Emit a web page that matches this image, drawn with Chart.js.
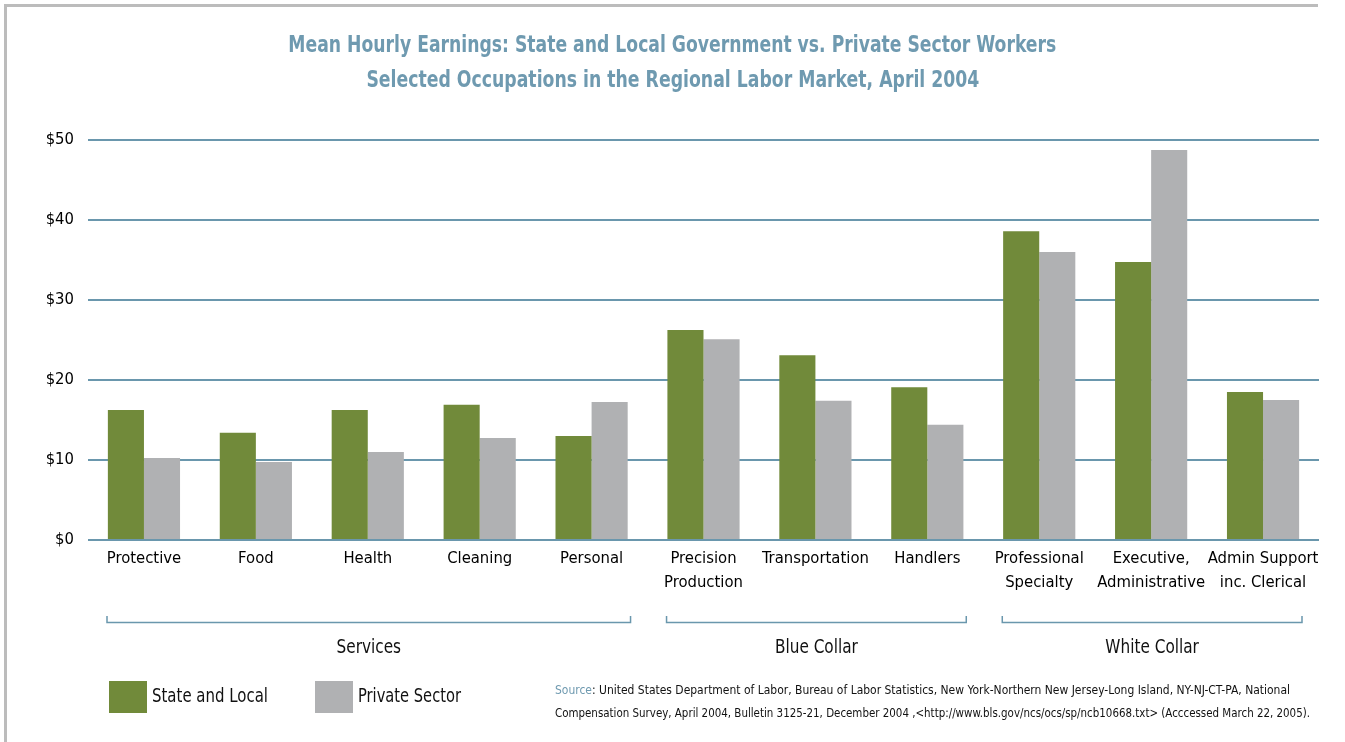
<!DOCTYPE html>
<html>
<head>
<meta charset="utf-8">
<script src="https://cdn.jsdelivr.net/npm/chart.js@4/dist/chart.umd.min.js"></script>
<style>
  html, body { margin: 0; padding: 0; background: #fff; }
  #wrap { position: relative; width: 1345px; height: 742px; overflow: hidden; font-family: "Liberation Sans Narrow", "DejaVu Sans Condensed", "Roboto", sans-serif; }
  #frame { position: absolute; left: 4px; top: 4px; width: 1311px; height: 760px; border-left: 3px solid #bcbcbc; border-top: 3px solid #bcbcbc; }
  canvas { position: absolute; left: 0; top: 0; }
  .tl { position: absolute; left: 0; width: 1345px; text-align: center; color: #6f9ab0; font-weight: bold; font-size: 23px; line-height: 30px; }
  .fit { display: inline-block; white-space: nowrap; }
  .sw { position: absolute; top: 681px; width: 38px; height: 32px; }
  .lt { position: absolute; top: 681px; font-size: 20px; color: #111; line-height: 28px; transform-origin: left center; }
  .src { position: absolute; left: 555px; font-size: 13px; line-height: 18px; color: #111; transform-origin: left center; }
  .src span { color: #6f9ab0; }
</style>
</head>
<body>
<div id="wrap">
  <div id="frame"></div>
  <canvas id="c" width="1345" height="742"></canvas>
  <div class="tl" style="top:29px"><span class="fit" data-w="768" style="transform-origin:center">Mean Hourly Earnings: State and Local Government vs. Private Sector Workers</span></div>
  <div class="tl" style="top:64px"><span class="fit" data-w="613" style="transform-origin:center">Selected Occupations in the Regional Labor Market, April 2004</span></div>
  <div class="sw" style="left:109px;background:#718a3a"></div>
  <span class="lt fit" data-w="116" style="left:152px">State and Local</span>
  <div class="sw" style="left:315px;background:#b0b1b3"></div>
  <span class="lt fit" data-w="103" style="left:358px">Private Sector</span>
  <span class="src fit" data-w="735" style="top:681px"><span>Source</span>: United States Department of Labor, Bureau of Labor Statistics, New York-Northern New Jersey-Long Island, NY-NJ-CT-PA, National</span>
  <span class="src fit" data-w="755" style="top:704px">Compensation Survey, April 2004, Bulletin 3125-21, December 2004 ,&lt;http://www.bls.gov/ncs/ocs/sp/ncb10668.txt&gt; (Acccessed March 22, 2005).</span>
</div>
<script>
const categories = [
  ["Protective"], ["Food"], ["Health"], ["Cleaning"], ["Personal"],
  ["Precision", "Production"], ["Transportation"], ["Handlers"],
  ["Professional", "Specialty"], ["Executive,", "Administrative"], ["Admin Support", "inc. Clerical"]
];
const stateLocal    = [16.25, 13.4, 16.25, 16.9, 13.0, 26.25, 23.1, 19.1, 38.6, 34.75, 18.5];
const privateSector = [10.25, 9.75, 11.0, 12.75, 17.25, 25.1, 17.4, 14.4, 36.0, 48.75, 17.5];
const groupNames  = ["Services", "Blue Collar", "White Collar"];
const groupStart  = [0, 5, 8];
const groupEnd    = [4, 7, 10];
const yTicks = [0, 10, 20, 30, 40, 50];

// horizontally condense HTML text to the reference widths
document.querySelectorAll('.fit').forEach(el => {
  const w = el.getBoundingClientRect().width;
  const t = +el.dataset.w;
  if (w > 0 && t) el.style.transform = 'scaleX(' + (t / w) + ')';
});

const FONT = '"Liberation Sans Narrow", "DejaVu Sans Condensed", "Roboto", sans-serif';
const GRID = '#6a97ad';

const groupPlugin = {
  id: 'groups',
  afterDraw(chart) {
    const x = chart.scales.x, ctx = chart.ctx;
    const half = (x.getPixelForValue(1) - x.getPixelForValue(0)) / 2;
    ctx.save();
    ctx.strokeStyle = GRID; ctx.lineWidth = 1.5;
    for (let g = 0; g < groupNames.length; g++) {
      const l = x.getPixelForValue(groupStart[g]) - half + 19;
      const r = x.getPixelForValue(groupEnd[g]) + half - 17;
      ctx.beginPath();
      ctx.moveTo(l, 616); ctx.lineTo(l, 622.5); ctx.lineTo(r, 622.5); ctx.lineTo(r, 616);
      ctx.stroke();
      ctx.save();
      ctx.translate((l + r) / 2, 648);
      ctx.scale(0.85, 1);
      ctx.fillStyle = '#111';
      ctx.font = '20px ' + FONT;
      ctx.textAlign = 'center'; ctx.textBaseline = 'middle';
      ctx.fillText(groupNames[g], 0, 0);
      ctx.restore();
    }
    ctx.restore();
  }
};

new Chart(document.getElementById('c'), {
  type: 'bar',
  data: {
    labels: categories,
    datasets: [
      { label: 'State and Local', data: stateLocal, backgroundColor: '#718a3a' },
      { label: 'Private Sector', data: privateSector, backgroundColor: '#b0b1b3' }
    ]
  },
  options: {
    responsive: false,
    animation: false,
    layout: { padding: { top: 140, left: 0, right: 26, bottom: 142 } },
    datasets: { bar: { categoryPercentage: 0.645, barPercentage: 1.0 } },
    plugins: { legend: { display: false }, title: { display: false }, tooltip: { enabled: false } },
    scales: {
      x: {
        grid: { display: false, drawTicks: false },
        border: { display: false },
        ticks: { color: '#000', font: { family: FONT, size: 16.5, lineHeight: 1.45 }, padding: 7, maxRotation: 0, autoSkip: false },
        afterFit(s) { s.height = 60; s.paddingLeft = 0; s.paddingRight = 0; }
      },
      y: {
        min: 0, max: 50,
        afterBuildTicks(s) { s.ticks = yTicks.map(v => ({ value: v })); },
        grid: { color: GRID, lineWidth: 2, drawTicks: false },
        border: { display: false },
        ticks: { color: '#000', font: { family: FONT, size: 16.5 }, padding: 14, callback: v => '$' + v },
        afterFit(s) { s.width = 88; }
      }
    }
  },
  plugins: [groupPlugin]
});
</script>
</body>
</html>
